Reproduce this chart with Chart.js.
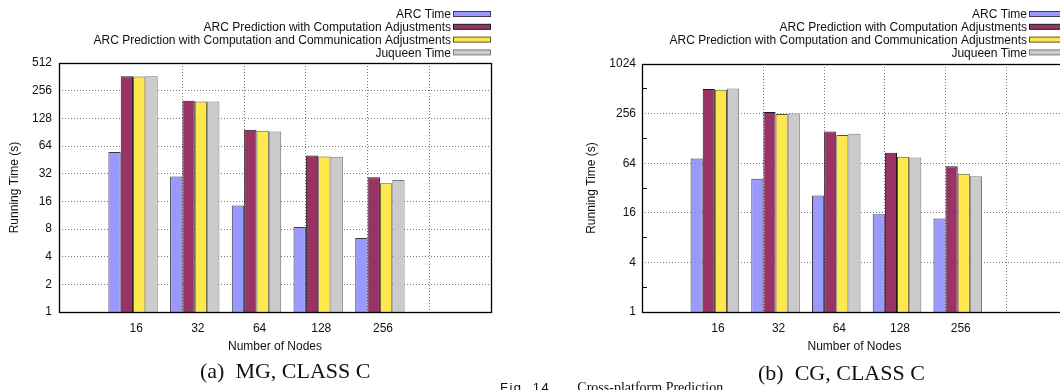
<!DOCTYPE html>
<html>
<head>
<meta charset="utf-8">
<title>Cross-platform Prediction</title>
<script src="https://cdn.jsdelivr.net/npm/chart.js@4.4.1/dist/chart.umd.min.js"></script>
<style>
  html, body { margin: 0; padding: 0; background: #fff; }
  body { width: 1060px; height: 390px; position: relative; overflow: hidden; }
  .panel { position: absolute; top: 0; height: 362px; }
  #panelMG { left: 0; width: 530px; }
  #panelCG { left: 530px; width: 545px; }
  .caption { position: absolute; font-family: "Liberation Serif", "DejaVu Serif", serif; font-size: 22px; white-space: pre; color: #111; line-height: 26px; }
  .figline { font-size: 14px; line-height: 18px; }
  .fig { font-family: "Liberation Sans", Arial, sans-serif; font-size: 13px; letter-spacing: 1.5px; margin-right: 22px; }
</style>
</head>
<body>
<div class="panel" id="panelMG"><canvas id="chartMG"></canvas></div>
<div class="panel" id="panelCG"><canvas id="chartCG"></canvas></div>
<div class="caption" style="left:200px; top:358px;">(a)  MG, CLASS C</div>
<div class="caption" style="left:758px; top:360px;">(b)  CG, CLASS C</div>
<div class="caption figline" style="left:500px; top:379px;"><span class="fig">Fig. 14.</span>Cross-platform Prediction</div>

<script>
// --- data ---
const categories = ['16', '32', '64', '128', '256'];   // number of nodes
const seriesNames = [
    'ARC Time',
    'ARC Prediction with Computation Adjustments',
    'ARC Prediction with Computation and Communication Adjustments',
    'Juqueen Time'
];

// MG, CLASS C - running time (s)
const mgArcTime      = [55, 29.8, 14.4, 8.4, 6.4];
const mgCompAdj      = [368, 199, 96, 50.6, 29.3];
const mgCompCommAdj  = [366, 195, 94, 49.3, 25.2];
const mgJuqueen      = [368, 195, 92, 48.9, 27.3];

// CG, CLASS C - running time (s)
const cgArcTime      = [73, 41.4, 25.9, 15.4, 13.6];
const cgCompAdj      = [509, 268, 155, 85.9, 58.8];
const cgCompCommAdj  = [500, 253, 141, 76.7, 47.8];
const cgJuqueen      = [516, 256, 146, 75, 44.3];

// y tick values (log2 axis); ticks not in the label list are minor ticks
const mgYTicks = [1, 2, 4, 8, 16, 32, 64, 128, 256, 512];
const mgYLabels = [1, 2, 4, 8, 16, 32, 64, 128, 256, 512];
const cgYTicks = [1, 2, 4, 8, 16, 32, 64, 128, 256, 512, 1024];
const cgYLabels = [1, 4, 16, 64, 256, 1024];

// --- styles ---
const fillColors = ['#9999ff', '#993366', '#ffe84d', '#cbcbcb'];
const edgeColors = ['#3c3c4c', '#1a1a1a', '#5a5530', '#7a7a7a'];
const gridColor = '#7a7a7a';
const textColor = '#111';
const sans = '"Liberation Sans", Arial, Helvetica, sans-serif';

// gnuplot-ish key: right aligned text, sample box to the right of it
const keyPlugin = {
    id: 'gnuKey',
    afterDraw(chart, args, opts) {
        const ctx = chart.ctx;
        const right = chart.chartArea.right;
        ctx.save();
        ctx.font = '12px ' + sans;
        ctx.textAlign = 'right';
        ctx.textBaseline = 'middle';
        chart.data.datasets.forEach((ds, i) => {
            const y = opts.top + i * opts.rowHeight;
            ctx.fillStyle = textColor;
            ctx.fillText(ds.label, right - opts.sampleWidth - 2, y + 1);
            ctx.fillStyle = ds.backgroundColor;
            ctx.fillRect(right - opts.sampleWidth, y - 2.5, opts.sampleWidth, 5);
            ctx.strokeStyle = ds.borderColor;
            ctx.lineWidth = 1;
            ctx.strokeRect(right - opts.sampleWidth + 0.5, y - 2.5, opts.sampleWidth - 1, 5);
        });
        ctx.restore();
    }
};

// box round the plot area
const framePlugin = {
    id: 'frame',
    afterDatasetsDraw(chart) {
        const {left, top, right, bottom} = chart.chartArea;
        const ctx = chart.ctx;
        ctx.save();
        ctx.strokeStyle = '#000';
        ctx.lineWidth = 1.3;
        ctx.strokeRect(Math.round(left) + 0.5, Math.round(top) + 0.5, Math.round(right - left), Math.round(bottom - top));
        ctx.restore();
    }
};

function buildChart(canvasId, seriesValues, yMax, yTicks, yLabels, layout) {
    const datasets = seriesValues.map((values, s) => ({
        label: seriesNames[s],
        data: values.map((v, i) => ({ x: i + 1.2, y: v })),
        backgroundColor: fillColors[s],
        borderColor: edgeColors[s],
        borderWidth: 1,
        categoryPercentage: 0.8,
        barPercentage: 1.0
    }));
    const isMajor = v => yLabels.includes(v);

    return new Chart(document.getElementById(canvasId), {
        type: 'bar',
        data: { datasets },
        plugins: [keyPlugin, framePlugin],
        options: {
            responsive: true,
            maintainAspectRatio: false,
            animation: false,
            layout: { padding: layout.padding },
            plugins: {
                legend: { display: false },
                tooltip: { enabled: false },
                gnuKey: { top: 14, rowHeight: 12.8, sampleWidth: 38 }
            },
            scales: {
                x: {
                    type: 'linear',
                    position: 'bottom',
                    min: 0, max: 7,
                    offset: false,
                    grid: { display: false, offset: false },
                    border: { display: false },
                    afterBuildTicks: s => { s.ticks = categories.map((c, i) => ({ value: i + 1.25 })); },
                    afterFit: s => { s.height = 50; },
                    ticks: {
                        autoSkip: false, maxRotation: 0, padding: 1,
                        color: textColor, font: { family: sans, size: 12 },
                        callback: (v, i) => categories[i]
                    },
                    title: {
                        display: true, text: 'Number of Nodes', color: textColor,
                        font: { family: sans, size: 12 }, padding: { top: 0, bottom: 8 }
                    }
                },
                xg: {
                    type: 'linear',
                    position: 'top',
                    min: 0, max: 7,
                    offset: false,
                    afterBuildTicks: s => { s.ticks = [2, 3, 4, 5, 6].map(v => ({ value: v })); },
                    afterFit: s => { s.height = 0; },
                    ticks: { display: false },
                    grid: { color: gridColor, lineWidth: 1, drawTicks: false, offset: false },
                    border: { display: false, dash: [1, 2] }
                },
                y: {
                    type: 'logarithmic',
                    min: 1, max: yMax,
                    afterBuildTicks: s => { s.ticks = yTicks.map(v => ({ value: v })); },
                    afterFit: s => { s.width = layout.yWidth; },
                    ticks: {
                        autoSkip: false, padding: layout.yPad + 5,
                        color: textColor, font: { family: sans, size: 12 },
                        callback: v => isMajor(v) ? String(v) : ''
                    },
                    grid: {
                        drawTicks: true, tickLength: -5, tickWidth: 1,
                        tickColor: c => (c.tick && !isMajor(c.tick.value)) ? '#111' : 'rgba(0,0,0,0)',
                        lineWidth: 1,
                        color: c => (c.tick && isMajor(c.tick.value) && c.tick.value !== 1 && c.tick.value !== yMax) ? gridColor : 'rgba(0,0,0,0)'
                    },
                    border: { display: false, dash: [1, 2] },
                    title: {
                        display: true, text: 'Running Time (s)', color: textColor,
                        font: { family: sans, size: 12 }, padding: { top: 7, bottom: 0 }
                    }
                }
            }
        }
    });
}

buildChart('chartMG', [mgArcTime, mgCompAdj, mgCompCommAdj, mgJuqueen], 512, mgYTicks, mgYLabels,
    { padding: { left: 0, top: 63, right: 39, bottom: 0 }, yWidth: 59, yPad: 7 });

buildChart('chartCG', [cgArcTime, cgCompAdj, cgCompCommAdj, cgJuqueen], 1024, cgYTicks, cgYLabels,
    { padding: { left: 47, top: 64, right: 8, bottom: 0 }, yWidth: 65, yPad: 6 });
</script>
</body>
</html>
